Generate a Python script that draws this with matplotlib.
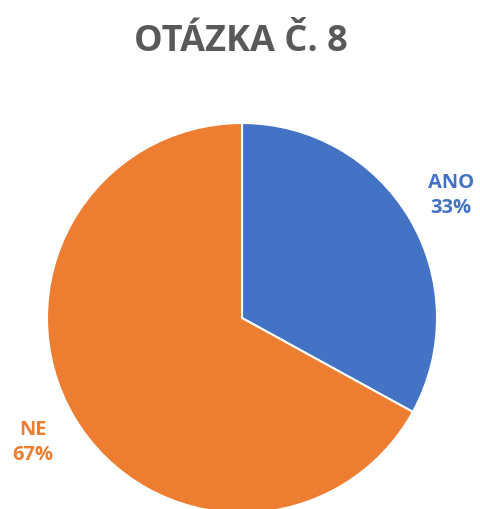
import matplotlib
matplotlib.use("Agg")
import matplotlib.pyplot as plt

categories = ["ANO", "NE"]
values = [33, 67]
colors = ["#4472C4", "#ED7D31"]
title = "OTÁZKA Č. 8"

W, H = 480, 510
fig = plt.figure(figsize=(W/100, H/100), dpi=100)
ax = fig.add_axes([0, 0, 1, 1])
ax.set_xlim(0, W)
ax.set_ylim(0, H)
ax.set_aspect("equal")
ax.axis("off")

labels = [f"{c}\n{v}%" for c, v in zip(categories, values)]
wedges, texts = ax.pie(values, colors=colors, startangle=90, counterclock=False,
                       center=(242, H - 319), radius=195, labels=labels,
                       labeldistance=1.245,
                       wedgeprops=dict(edgecolor="white", linewidth=1.5),
                       textprops=dict(fontsize=14.5, fontweight="bold", family=["Open Sans", "DejaVu Sans"],
                                      ha="center", va="center", linespacing=1.3))
for t, c in zip(texts, colors):
    t.set_color(c)
    t.set_horizontalalignment("center")

ax.set_xlim(0, W)
ax.set_ylim(0, H)

fig.text(241/W, 1 - 42/H, title, ha="center", va="center", fontsize=26,
         fontweight="bold", color="#595959", family=["Open Sans", "DejaVu Sans"])

fig.savefig("out.png", dpi=100, facecolor="white")
